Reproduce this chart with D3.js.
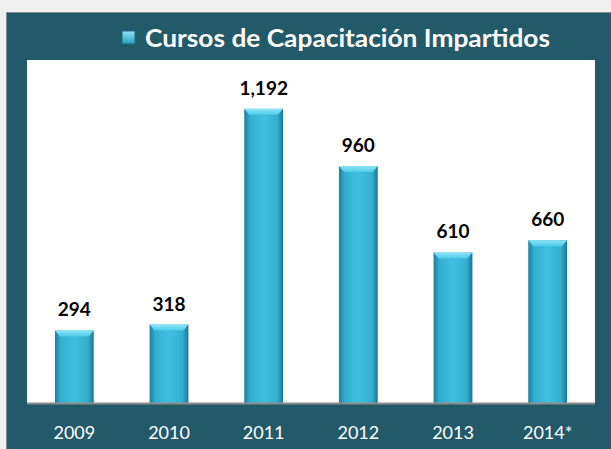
<!DOCTYPE html>
<html>
<head>
<meta charset="utf-8">
<script src="https://cdn.jsdelivr.net/npm/d3@7"></script>
<style>
  body { margin: 0; background: #f0f0f0; }
  svg { display: block; }
</style>
</head>
<body>
<svg id="chart"></svg>
<script>
const years = ["2009", "2010", "2011", "2012", "2013", "2014*"];
const cursos = [294, 318, 1192, 960, 610, 660];
const chartTitle = "Cursos de Capacitación Impartidos";

const totalWidth = 611;
const totalHeight = 449;
const plot = { left: 27, right: 595, top: 60, bottom: 403 };

const svg = d3.select("#chart").attr("width", totalWidth).attr("height", totalHeight);

// outer panel
svg.append("rect")
  .attr("x", 6.5).attr("y", 12.5)
  .attr("width", 620).attr("height", 450)
  .attr("fill", "#235a69")
  .attr("stroke", "#8a8a8a");

// plot background
svg.append("rect")
  .attr("x", plot.left).attr("y", plot.top)
  .attr("width", plot.right - plot.left).attr("height", plot.bottom - plot.top)
  .attr("fill", "#fff");

const xScale = d3.scaleBand().domain(years).range([plot.left, plot.right]).paddingInner(0.59).paddingOuter(0.295);
const yScale = d3.scaleLinear().domain([0, 1390]).range([plot.bottom, plot.top]);

const defs = svg.append("defs");
const barGrad = defs.append("linearGradient").attr("id", "barGrad")
  .attr("x1", "0%").attr("x2", "100%").attr("y1", "0%").attr("y2", "0%");
barGrad.append("stop").attr("offset", "0%").attr("stop-color", "#1d7f9c");
barGrad.append("stop").attr("offset", "15%").attr("stop-color", "#33aed0");
barGrad.append("stop").attr("offset", "50%").attr("stop-color", "#42bfe0");
barGrad.append("stop").attr("offset", "85%").attr("stop-color", "#33aed0");
barGrad.append("stop").attr("offset", "100%").attr("stop-color", "#1b7590");

const capGrad = defs.append("linearGradient").attr("id", "capGrad")
  .attr("x1", "0%").attr("x2", "0%").attr("y1", "0%").attr("y2", "100%");
capGrad.append("stop").attr("offset", "0%").attr("stop-color", "#8fe4f6");
capGrad.append("stop").attr("offset", "100%").attr("stop-color", "#4ccbe8");

const bars = svg.append("g").selectAll("g").data(cursos).enter().append("g");
const bw = xScale.bandwidth();

bars.append("rect")
  .attr("x", (d, i) => xScale(years[i]))
  .attr("y", (d) => yScale(d))
  .attr("width", bw)
  .attr("height", (d) => plot.bottom - yScale(d))
  .attr("fill", "url(#barGrad)");

// top bevel
bars.append("path")
  .attr("d", (d, i) => {
    const x0 = xScale(years[i]);
    const y0 = yScale(d);
    return `M${x0},${y0}L${x0 + bw},${y0}L${x0 + bw - 5},${y0 + 6}L${x0 + 5},${y0 + 6}Z`;
  })
  .attr("fill", "url(#capGrad)");

// value labels
bars.append("text")
  .attr("x", (d, i) => xScale(years[i]) + bw / 2)
  .attr("y", (d) => yScale(d) - 14)
  .attr("text-anchor", "middle")
  .attr("font-family", "Lato, 'Open Sans', sans-serif")
  .attr("font-weight", "bold")
  .attr("font-size", 19)
  .attr("fill", "#000")
  .text((d) => d3.format(",")(d));

// axis line
svg.append("line")
  .attr("x1", plot.left).attr("x2", plot.right)
  .attr("y1", plot.bottom + 0.5).attr("y2", plot.bottom + 0.5)
  .attr("stroke", "#8c8c8c").attr("stroke-width", 2);

// x labels
const xAxis = svg.append("g")
  .attr("transform", `translate(0,${plot.bottom})`)
  .call(d3.axisBottom(xScale).tickSize(0).tickPadding(23));
xAxis.select(".domain").remove();
xAxis.selectAll("text")
  .attr("fill", "#fff")
  .attr("font-family", "Lato, 'Open Sans', sans-serif")
  .attr("font-size", 18);

// title with legend square
const legendGrad = defs.append("linearGradient").attr("id", "legGrad")
  .attr("x1", "0%").attr("x2", "0%").attr("y1", "0%").attr("y2", "100%");
legendGrad.append("stop").attr("offset", "0%").attr("stop-color", "#8fe4f6");
legendGrad.append("stop").attr("offset", "100%").attr("stop-color", "#2a9cbf");
svg.append("rect")
  .attr("x", 122).attr("y", 31).attr("width", 13).attr("height", 13)
  .attr("fill", "url(#legGrad)").attr("stroke", "#1a6a80");
svg.append("text")
  .attr("x", 145).attr("y", 47)
  .attr("font-family", "Lato, 'Open Sans', sans-serif")
  .attr("font-weight", "bold")
  .attr("font-size", 25)
  .attr("textLength", 405)
  .attr("lengthAdjust", "spacingAndGlyphs")
  .attr("fill", "#fff")
  .text(chartTitle);
</script>
</body>
</html>
